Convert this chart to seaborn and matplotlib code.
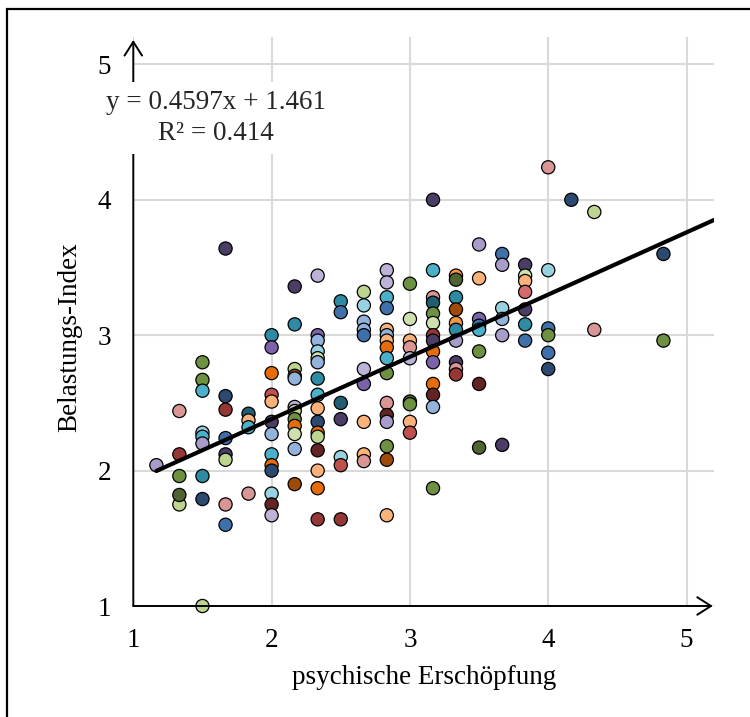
import matplotlib
matplotlib.use("Agg")
import matplotlib.pyplot as plt
from matplotlib.patches import Rectangle
import numpy as np
import pandas as pd
import seaborn as sns

# ---------------- data ----------------
# x: psychische Erschöpfung, y: Belastungs-Index, grp: colour group of each point
x_vals = (
    [1.167] +
    [1.333] * 5 +
    [1.5] * 9 +
    [1.667] * 8 +
    [1.833] * 4 +
    [2.0] * 13 +
    [2.167] * 12 +
    [2.333] * 16 +
    [2.5] * 7 +
    [2.667] * 10 +
    [2.833] * 16 +
    [3.0] * 9 +
    [3.167] * 14 +
    [3.333] * 10 +
    [3.5] * 8 +
    [3.667] * 6 +
    [3.833] * 7 +
    [4.0] * 6 +
    [4.167] +
    [4.333] * 2 +
    [4.833] * 2
)
y_vals = [
    2.04,
    2.44, 2.12, 1.96, 1.75, 1.82,
    2.80, 2.67, 2.59, 2.28, 2.25, 2.20, 1.96, 1.79, 1.00,
    3.64, 2.55, 2.45, 2.24, 2.12, 2.08, 1.75, 1.60,
    2.42, 2.37, 2.32, 1.83,
    3.00, 2.91, 2.72, 2.56, 2.51, 2.36, 2.27, 2.12, 2.04, 2.00, 1.83, 1.75, 1.67,
    3.36, 3.08, 2.75, 2.70, 2.68, 2.47, 2.44, 2.38, 2.33, 2.27, 2.16, 1.90,
    3.44, 3.00, 2.96, 2.88, 2.83, 2.80, 2.68, 2.56, 2.46, 2.36, 2.28, 2.25, 2.15, 2.00, 1.87, 1.64,
    3.25, 3.17, 2.50, 2.38, 2.10, 2.04, 1.64,
    3.32, 3.22, 3.10, 3.04, 3.00, 2.75, 2.64, 2.36, 2.12, 2.07,
    3.48, 3.39, 3.28, 3.20, 3.04, 3.00, 2.96, 2.91, 2.83, 2.72, 2.50, 2.41, 2.36, 2.18, 2.08, 1.67,
    3.38, 3.12, 2.96, 2.91, 2.83, 2.51, 2.49, 2.36, 2.28,
    4.00, 3.48, 3.28, 3.24, 3.16, 3.09, 3.00, 2.96, 2.88, 2.80, 2.64, 2.56, 2.47, 1.87,
    3.44, 3.41, 3.28, 3.19, 3.09, 3.04, 2.96, 2.80, 2.75, 2.71,
    3.67, 3.42, 3.12, 3.07, 3.04, 2.88, 2.64, 2.17,
    3.60, 3.52, 3.20, 3.12, 3.00, 2.19,
    3.52, 3.44, 3.40, 3.32, 3.19, 3.08, 2.96,
    4.24, 3.48, 3.05, 3.00, 2.87, 2.75,
    4.00,
    3.91, 3.04,
    3.60, 2.96,
]
grp = [
    "lv",
    "pk", "dr", "ol", "lg", "dg",
    "ol", "ol", "cy", "lc", "cy", "lv", "te", "db", "lg",
    "dp", "db", "dr", "bl", "dp", "lg", "pk", "bl",
    "dt", "pe", "cy", "pk",
    "te", "pu", "or", "re", "pe", "dp", "lb", "cy", "or", "db", "lc", "mr", "ll",
    "dp", "te", "lg", "br", "lb", "ll", "lg", "ol", "or", "pg", "lb", "br",
    "ll", "pu", "lb", "lc", "pg", "lb", "te", "cy", "pe", "db", "or", "lg", "mr", "pe", "or", "dr",
    "te", "bl", "dt", "dp", "lc", "re", "dr",
    "lg", "lc", "lb", "lb", "bl", "ll", "pu", "pe", "pe", "pk",
    "ll", "ll", "cy", "bl", "pe", "lb", "pe", "or", "cy", "ol", "pk", "mr", "lv", "ol", "br", "pe",
    "ol", "pg", "pe", "pk", "ll", "dg", "ol", "pe", "re",
    "dp", "cy", "pk", "dt", "ol", "pg", "dr", "dp", "or", "pu", "or", "mr", "lb", "ol",
    "lo", "dg", "te", "br", "lo", "te", "lv", "dp", "pk", "dr",
    "lv", "pe", "pu", "bl", "cy", "ol", "mr", "dg",
    "bl", "lv", "lc", "lb", "lv", "dp",
    "dp", "pg", "pe", "rp", "dp", "te", "bl",
    "pk", "lc", "bl", "ol", "bl", "db",
    "db",
    "lg", "pk",
    "db", "ol",
]

# trend line from the equation shown on the chart
slope, intercept, r2 = 0.4597, 1.461, 0.414
trend_x = [1.167, 5.25]

x_ticks = [1, 2, 3, 4, 5]
y_ticks = [1, 2, 3, 4, 5]
x_label = "psychische Erschöpfung"
y_label = "Belastungs-Index"

# ---------------- style ----------------
palette = {
    "dp": "#4b3d66", "pu": "#7c62a8", "lv": "#a99ccb", "ll": "#bdb3d8",
    "db": "#2c4a70", "bl": "#3f70aa", "lb": "#93b3dc", "lc": "#98d2e2",
    "cy": "#4bb0ca", "te": "#2f8aa3", "dt": "#205f73", "ol": "#6d9140",
    "dg": "#4e6431", "lg": "#bdd58f", "pg": "#cde0ad", "or": "#e46c0a",
    "lo": "#f79646", "pe": "#fab27a", "br": "#a04a0a", "re": "#c0504d",
    "rp": "#d46a6a", "dr": "#953735", "pk": "#d99694", "mr": "#632523",
}

sns.set_theme(style="white")
plt.rcParams["font.family"] = ["Liberation Serif", "DejaVu Serif"]
FS = 19.5

df = pd.DataFrame({"x": x_vals, "y": y_vals, "grp": grp})

fig = plt.figure(figsize=(7.5, 7.17), dpi=100)
ax = fig.add_axes([133.3 / 750, 111 / 717, 580.9 / 750, 568.7 / 717])
ax.set_xlim(1, 5.2)
ax.set_ylim(1, 5.2)

ax.grid(True, color="#d9d9d9", lw=1.5, zorder=0)
ax.set_axisbelow(True)
for s in ax.spines.values():
    s.set_visible(False)

sns.scatterplot(data=df, x="x", y="y", hue="grp", palette=palette, s=90,
                edgecolor="black", linewidth=0.9, legend=False, ax=ax,
                clip_on=False, zorder=3)

tx = np.array(trend_x)
sns.lineplot(x=tx, y=slope * tx + intercept, color="black", lw=3.0, ax=ax,
             zorder=4)

# axis arrows
arrow = dict(arrowstyle="->,head_length=0.55,head_width=0.35", lw=1.4,
             color="black", shrinkA=0, shrinkB=0, mutation_scale=18)
ax.annotate("", xy=(5.19, 1), xytext=(1, 1), arrowprops=arrow,
            annotation_clip=False, zorder=5)
ax.annotate("", xy=(1, 5.18), xytext=(1, 1), arrowprops=arrow,
            annotation_clip=False, zorder=5)

ax.set_xticks(x_ticks)
ax.set_yticks(y_ticks)
ax.set_xticklabels([str(t) for t in x_ticks])
ax.set_yticklabels([str(t) for t in y_ticks])
ax.tick_params(axis="both", length=0, pad=16, labelsize=FS, colors="black")

ax.set_xlabel(x_label, fontsize=FS, color="black", va="center")
ax.set_ylabel(y_label, fontsize=FS, color="black", va="center")
ax.xaxis.set_label_coords(0.5, (606 - 677) / 568.7)
ax.yaxis.set_label_coords((70 - 133.3) / 580.9, (606 - 337) / 568.7)

# equation box
fig.text(216 / 750, 1 - 118 / 717,
         f"y = {slope}x + {intercept}\nR² = {r2}",
         ha="center", va="center", fontsize=FS, linespacing=1.3,
         bbox=dict(facecolor="white", edgecolor="none", pad=6), zorder=10)

# outer frame (partially visible)
fig.add_artist(Rectangle((7 / 750, -0.5), 2, (1 - 9 / 717) + 0.5,
                         transform=fig.transFigure, fill=False, lw=1.6,
                         ec="black"))

fig.savefig("out.png", dpi=100)
